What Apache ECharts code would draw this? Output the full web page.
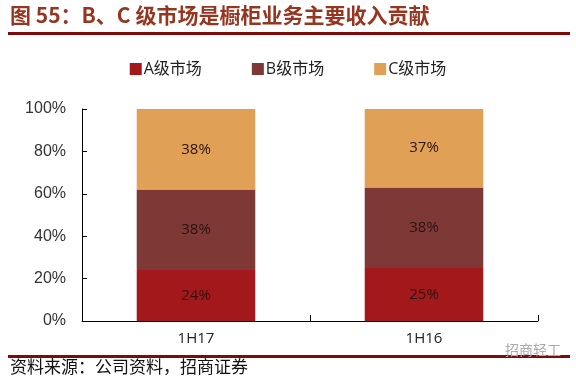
<!DOCTYPE html>
<html><head><meta charset="utf-8">
<script src="https://cdn.jsdelivr.net/npm/echarts@6/dist/echarts.min.js"></script>
<style>html,body{margin:0;padding:0;background:#fff}#c{width:576px;height:386px}</style>
</head><body><div id="c"></div>
<script>
var categories = ['1H17', '1H16'];
var seriesNames = ['A级市场', 'B级市场', 'C级市场'];
var aValues = [24, 25];
var bValues = [38, 38];
var cValues = [38, 37];
var yTicks = [0, 20, 40, 60, 80, 100];
var titleText = '图 55：B、C 级市场是橱柜业务主要收入贡献';
var sourceText = '资料来源：公司资料，招商证券';
var watermarkText = '招商轻工';

var colors = ['#A3181A', '#7E3836', '#E0A055'];
var chart = echarts.init(document.getElementById('c'));
function mk(name, data, color) {
  return {
    name: name, type: 'bar', stack: 'total', data: data, barWidth: '52%',
    itemStyle: { color: color },
    label: { show: true, position: 'inside', formatter: '{c}%', color: '#2b1410',
      fontSize: 15, fontFamily: 'Open Sans, sans-serif' }
  };
}
chart.setOption({
  animation: false,
  legend: {
    top: 56, left: 'center', itemWidth: 12, itemHeight: 12, itemGap: 50,
    icon: 'rect',
    textStyle: { fontSize: 16, color: '#222', padding: [0,0,0,-3], fontFamily: 'Open Sans, Noto Sans CJK SC, sans-serif' },
    data: seriesNames
  },
  grid: { left: 82, right: 38, top: 109, bottom: 65 },
  xAxis: {
    type: 'category', data: categories,
    axisLine: { lineStyle: { color: '#000', width: 1 } },
    axisTick: { show: true, inside: true, length: 6, lineStyle: { color: '#000' } },
    axisLabel: { color: '#222', fontSize: 15, margin: 10, fontFamily: 'Open Sans, sans-serif' }
  },
  yAxis: {
    type: 'value', min: 0, max: 100, interval: 20,
    axisLine: { show: true, lineStyle: { color: '#000' } },
    axisTick: { show: true, inside: true, length: 5, lineStyle: { color: '#000' } },
    splitLine: { show: false },
    axisLabel: { color: '#333', fontSize: 16, margin: 16, fontFamily: 'Liberation Sans, Arial, sans-serif',
      formatter: function (v) { return yTicks.indexOf(v) >= 0 ? v + '%' : ''; } }
  },
  series: [mk(seriesNames[0], aValues, colors[0]), mk(seriesNames[1], bValues, colors[1]), mk(seriesNames[2], cValues, colors[2])],
  graphic: [
    { type: 'text', left: 10, top: 5, style: { text: titleText, fontSize: 21, fontWeight: 'bold', fill: '#973620', fontFamily: 'Noto Sans CJK SC, sans-serif' } },
    { type: 'rect', shape: { x: 8, y: 32, width: 562, height: 3 }, style: { fill: '#7E0A0A' } },
    { type: 'rect', shape: { x: 8, y: 355, width: 562, height: 3 }, style: { fill: '#7E0A0A' } },
    { type: 'text', left: 10, top: 358, style: { text: sourceText, fontSize: 17, fill: '#111', fontFamily: 'Noto Sans CJK SC, sans-serif' } },
    { type: 'text', left: 505, top: 343, style: { text: watermarkText, fontSize: 14, fill: '#aaa', fontFamily: 'Noto Sans CJK SC, sans-serif' } }
  ]
});
</script></body></html>
